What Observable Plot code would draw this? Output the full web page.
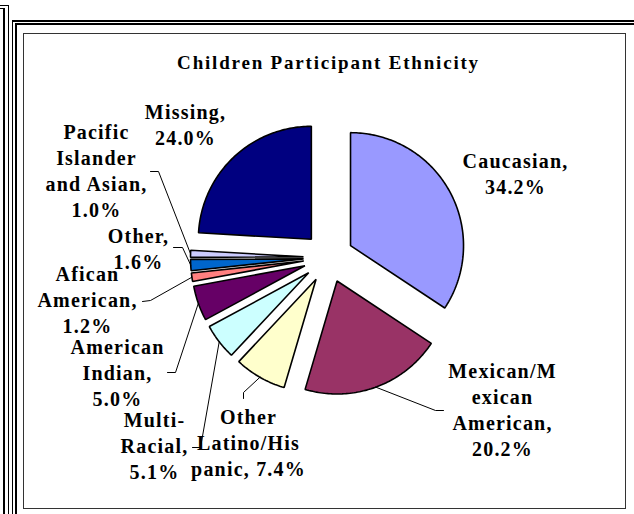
<!DOCTYPE html>
<html>
<head>
<meta charset="utf-8">
<title>Children Participant Ethnicity</title>
<script src="https://cdn.jsdelivr.net/npm/d3@7"></script>
<script src="https://cdn.jsdelivr.net/npm/@observablehq/plot@0.6"></script>
<style>
  html, body { margin: 0; padding: 0; background: #fff; }
  #chart { position: relative; width: 634px; height: 514px; overflow: hidden; background: #fff; }
  .rule { position: absolute; background: #000; }
  #plotArea { position: absolute; left: 23px; top: 33px; width: 601px; height: 474px; border: 1.5px solid #333; }
  #chart svg { position: absolute; left: 0; top: 0; }
  #chart svg text { letter-spacing: 1.2px; }
  #chart svg .title text { letter-spacing: 1.8px; }
</style>
</head>
<body>
<div id="chart">
  <!-- sheet borders -->
  <div class="rule" style="left:0;top:4.5px;width:9px;height:1.5px"></div>
  <div class="rule" style="left:7.5px;top:4.5px;width:1.5px;height:510px"></div>
  <div class="rule" style="left:0;top:7.5px;width:4.5px;height:1.5px"></div>
  <div class="rule" style="left:3px;top:7.5px;width:1.5px;height:510px"></div>
  <div class="rule" style="left:11.5px;top:19.5px;width:623px;height:2px"></div>
  <div class="rule" style="left:11.5px;top:19.5px;width:1.7px;height:500px"></div>
  <div class="rule" style="left:15px;top:23px;width:620px;height:2px"></div>
  <div class="rule" style="left:15px;top:23px;width:1.7px;height:500px"></div>
  <div id="plotArea"></div>
</div>
<script>
// Survey shares (percent of participants), in pie order starting at 12 o'clock
const ethnicities = [
  "Caucasian", "Mexican/Mexican American", "Other Latino/Hispanic", "Multi-Racial",
  "American Indian", "Afican American", "Other", "Pacific Islander and Asian", "Missing"
];
const shares = [34.2, 20.2, 7.4, 5.1, 5.0, 1.2, 1.6, 1.0, 24.0];
const sliceColors = [
  "#9999FF", "#993366", "#FFFFCC", "#CCFFFF", "#660066",
  "#FF8080", "#0066CC", "#CCCCFF", "#000080"
];
// Wrapped data-label text; {p} is replaced by the formatted share
const labelWraps = [
  ["Caucasian,", "{p}"],
  ["Mexican/M", "exican", "American,", "{p}"],
  ["Other", "Latino/His", "panic, {p}"],
  ["Multi-", "Racial,", "{p}"],
  ["American", "Indian,", "{p}"],
  ["Afican", "American,", "{p}"],
  ["Other,", "{p}"],
  ["Pacific", "Islander", "and Asian,", "{p}"],
  ["Missing,", "{p}"]
];
const chartTitle = "Children Participant Ethnicity";

// Layout: pie geometry and label placement (pixels)
const pie = {cx: 328, cy: 257, r: 113, explode: 25};
const lineStep = 26;
const labelLayout = [
  {x: 515, y: 167, elbow: null},
  {x: 502, y: 377, elbow: [[435, 410], [443, 410]]},
  {x: 248, y: 423, elbow: [[243, 392], [243, 398]]},
  {x: 154, y: 426, elbow: [[200, 447], [192, 447]]},
  {x: 117, y: 353, elbow: [[175, 372], [167, 372]]},
  {x: 87,  y: 280, elbow: [[150, 300], [142, 301]]},
  {x: 138, y: 242, elbow: [[182, 247], [173, 247]]},
  {x: 96,  y: 138, elbow: [[158, 171], [150, 171]]},
  {x: 185, y: 118, elbow: null}
];

const rows = ethnicities.map((name, i) => ({name, share: shares[i], i}));
const arcs = d3.pie().sort(null).value(d => d.share)(rows);

// Polygon outline of each exploded slice
const polar = (ox, oy, a, r) => [ox + r * Math.sin(a), oy - r * Math.cos(a)];
const slicePoints = [];
const leaderPoints = [];
const labelRows = [];
for (const a of arcs) {
  const mid = (a.startAngle + a.endAngle) / 2;
  const [ox, oy] = polar(pie.cx, pie.cy, mid, pie.explode);
  const name = a.data.name;
  slicePoints.push({name, x: ox, y: oy});
  const n = Math.max(2, Math.ceil((a.endAngle - a.startAngle) / (Math.PI / 180)));
  for (let k = 0; k <= n; ++k) {
    const t = a.startAngle + (a.endAngle - a.startAngle) * k / n;
    const [x, y] = polar(ox, oy, t, pie.r);
    slicePoints.push({name, x, y});
  }
  const lay = labelLayout[a.data.i];
  if (lay.elbow) {
    const [sx, sy] = polar(ox, oy, mid, pie.r);
    leaderPoints.push({name, x: sx, y: sy});
    for (const [x, y] of lay.elbow) leaderPoints.push({name, x, y});
  }
  const pct = a.data.share.toFixed(1) + "%";
  labelWraps[a.data.i].forEach((line, k) => {
    labelRows.push({text: line.replace("{p}", pct), x: lay.x, y: lay.y + k * lineStep});
  });
}

const chart = Plot.plot({
  width: 634,
  height: 514,
  margin: 0,
  x: {domain: [0, 634], range: [0, 634], axis: null},
  y: {domain: [0, 514], range: [0, 514], axis: null},
  color: {domain: ethnicities, range: sliceColors},
  style: {background: "transparent", fontFamily: "'Liberation Serif', 'Times New Roman', serif", color: "#000"},
  marks: [
    Plot.line(slicePoints, {
      x: "x", y: "y", z: "name", fill: "name",
      stroke: "#000", strokeWidth: 1.6, strokeLinejoin: "miter", curve: "linear-closed"
    }),
    Plot.line(leaderPoints, {x: "x", y: "y", z: "name", stroke: "#000", strokeWidth: 1}),
    Plot.text(labelRows, {
      x: "x", y: "y", text: "text", fontSize: 20, fontWeight: "bold",
      lineAnchor: "bottom", textAnchor: "middle", fill: "#000"
    }),
    Plot.text([chartTitle], {
      x: () => 328, y: () => 68, text: d => d, fontSize: 19, fontWeight: "bold",
      lineAnchor: "bottom", textAnchor: "middle", fill: "#000", className: "title"
    })
  ]
});
document.getElementById("chart").appendChild(chart);
</script>
</body>
</html>
